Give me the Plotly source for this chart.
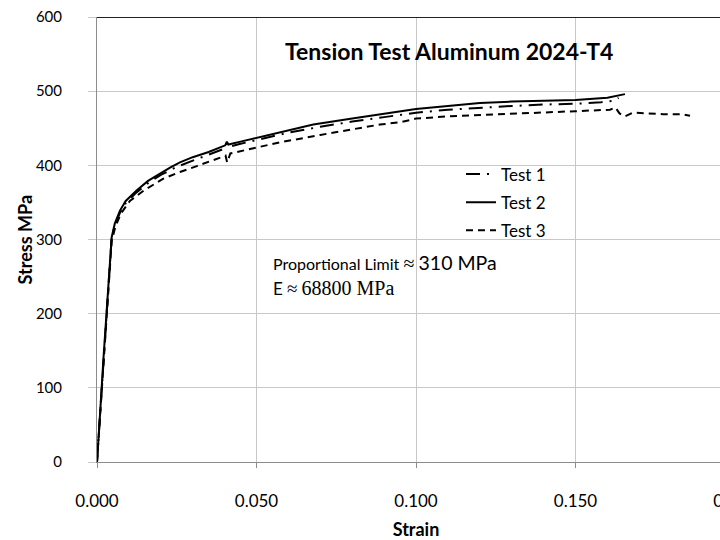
import plotly.graph_objects as go

# ---- data ----
test1_strain = [0.0, 0.001, 0.002, 0.003, 0.004, 0.0046, 0.0056, 0.0072, 0.009, 0.012, 0.016, 0.02, 0.025,
                0.03, 0.035, 0.0402, 0.0408, 0.0415, 0.045, 0.05, 0.06, 0.07, 0.08, 0.09, 0.10, 0.11,
                0.12, 0.13, 0.14, 0.15, 0.158, 0.162, 0.1635]
test1_stress = [0, 66, 136, 204, 272, 303, 320, 336, 349, 362, 376, 387, 398,
                406, 414, 423, 430, 425, 429, 434, 444, 452, 459, 465, 471, 475,
                478, 480, 482, 483, 485, 487, 491]

test2_strain = [0.0, 0.0005, 0.001, 0.002, 0.003, 0.004, 0.0046, 0.0056, 0.0072, 0.009, 0.0124, 0.016, 0.02,
                0.0229, 0.026, 0.03, 0.035, 0.0402, 0.0407, 0.0412, 0.045, 0.05, 0.06, 0.0678, 0.08,
                0.0887, 0.10, 0.11, 0.12, 0.13, 0.14, 0.15, 0.16, 0.1655]
test2_stress = [0, 30, 68, 138, 206, 274, 303, 322, 339, 352, 366, 379, 390,
                397, 404, 411, 418, 427, 432, 428, 432, 437, 448, 455, 463,
                469, 476, 480, 484, 486, 487, 488, 491, 496]

test3_strain = [0.0, 0.001, 0.002, 0.003, 0.004, 0.0046, 0.0058, 0.0075, 0.0103, 0.015, 0.0208, 0.026,
                0.0313, 0.036, 0.0403, 0.0408, 0.0418, 0.05, 0.0574, 0.07, 0.08, 0.0887, 0.095, 0.10,
                0.11, 0.12, 0.13, 0.14, 0.15, 0.1608, 0.1625, 0.1638, 0.1655, 0.168, 0.1723, 0.1774,
                0.1828, 0.1859]
test3_stress = [0, 66, 136, 204, 270, 298, 318, 335, 352, 367, 382, 391,
                399, 406, 413, 404, 416, 424, 431, 441, 448, 455, 458, 463,
                466, 468, 470, 471, 473, 475, 478, 470, 466, 471, 470, 469,
                469, 467]

x_ticks = [0.0, 0.05, 0.10, 0.15, 0.20]
x_tick_labels = ["0.000", "0.050", "0.100", "0.150", "0.200"]
y_ticks = [0, 100, 200, 300, 400, 500, 600]

FONT = "Lato"

fig = go.Figure()
fig.add_trace(go.Scatter(x=test1_strain, y=test1_stress, mode="lines", name="Test 1",
                         legendgroup="t1",
                         line=dict(color="black", width=2, dash="14px,7px,2px,7px")))
fig.add_trace(go.Scatter(x=test2_strain, y=test2_stress, mode="lines", name="Test 2",
                         legendgroup="t2",
                         line=dict(color="black", width=2)))
fig.add_trace(go.Scatter(x=test3_strain, y=test3_stress, mode="lines", name="Test 3",
                         legendgroup="t3",
                         line=dict(color="black", width=2, dash="7px,5px")))

fig.update_layout(
    width=760, height=540,
    margin=dict(l=97, r=25, t=17, b=78, autoexpand=False),
    paper_bgcolor="white", plot_bgcolor="white",
    font=dict(family=FONT, size=15, color="black"),
    showlegend=True,
    legend=dict(x=0.5705, y=0.6865, xanchor="left", yanchor="top",
                bgcolor="rgba(0,0,0,0)", font=dict(family=FONT, size=17),
                itemwidth=30, traceorder="grouped", tracegroupgap=3),
    xaxis=dict(range=[0, 0.2], tickvals=x_ticks, ticktext=x_tick_labels,
               automargin=False,
               showgrid=True, gridcolor="#c8c8c8", gridwidth=1,
               showline=True, linecolor="#8c8c8c", linewidth=1,
               ticks="outside", ticklen=5, tickcolor="#8c8c8c",
               ticklabelstandoff=19,
               zeroline=False, tickfont=dict(family=FONT, size=17),
               title=dict(text="<b>Strain</b>", font=dict(family=FONT, size=18), standoff=14)),
    yaxis=dict(range=[0, 600], tickvals=y_ticks,
               automargin=False,
               showgrid=True, gridcolor="#c8c8c8", gridwidth=1,
               showline=True, linecolor="#8c8c8c", linewidth=1,
               ticks="outside", ticklen=8, tickcolor="#c8c8c8",
               ticklabelstandoff=23,
               zeroline=False, tickfont=dict(family=FONT, size=15)),
)

# dark top border line
fig.add_shape(type="line", xref="paper", yref="y", x0=0, x1=1, y0=600, y1=600,
              line=dict(color="#222222", width=2))

# y-axis title
fig.add_annotation(x=-0.113, y=0.5, xref="paper", yref="paper", showarrow=False,
                   xanchor="center", yanchor="middle",
                   textangle=-90, text="<b>Stress MPa</b>",
                   font=dict(family=FONT, size=18, color="black"))

fig.add_annotation(x=0.1103, y=554, xref="x", yref="y", showarrow=False,
                   text="<b>Tension Test Aluminum 2024-T4</b>",
                   font=dict(family=FONT, size=23, color="black"))
fig.add_annotation(x=0.0545, y=269, xref="x", yref="y", xanchor="left", showarrow=False,
                   text="Proportional Limit <span style='font-family:Liberation Serif;font-size:20px'>≈</span>"
                        " <span style='font-size:19.5px'>310 MPa</span>",
                   font=dict(family=FONT, size=16, color="black"))
fig.add_annotation(x=0.0545, y=235, xref="x", yref="y", xanchor="left", showarrow=False,
                   text="<span style='font-size:17px'>E</span> "
                        "<span style='font-family:Liberation Serif;font-size:19px'>≈</span>"
                        " <span style='font-family:Liberation Serif;font-size:20px'>68800 MPa</span>",
                   font=dict(family=FONT, size=16, color="black"))

fig.write_html("out.html",
               post_script="document.documentElement.style.overflow='hidden';document.body.style.overflow='hidden';")
